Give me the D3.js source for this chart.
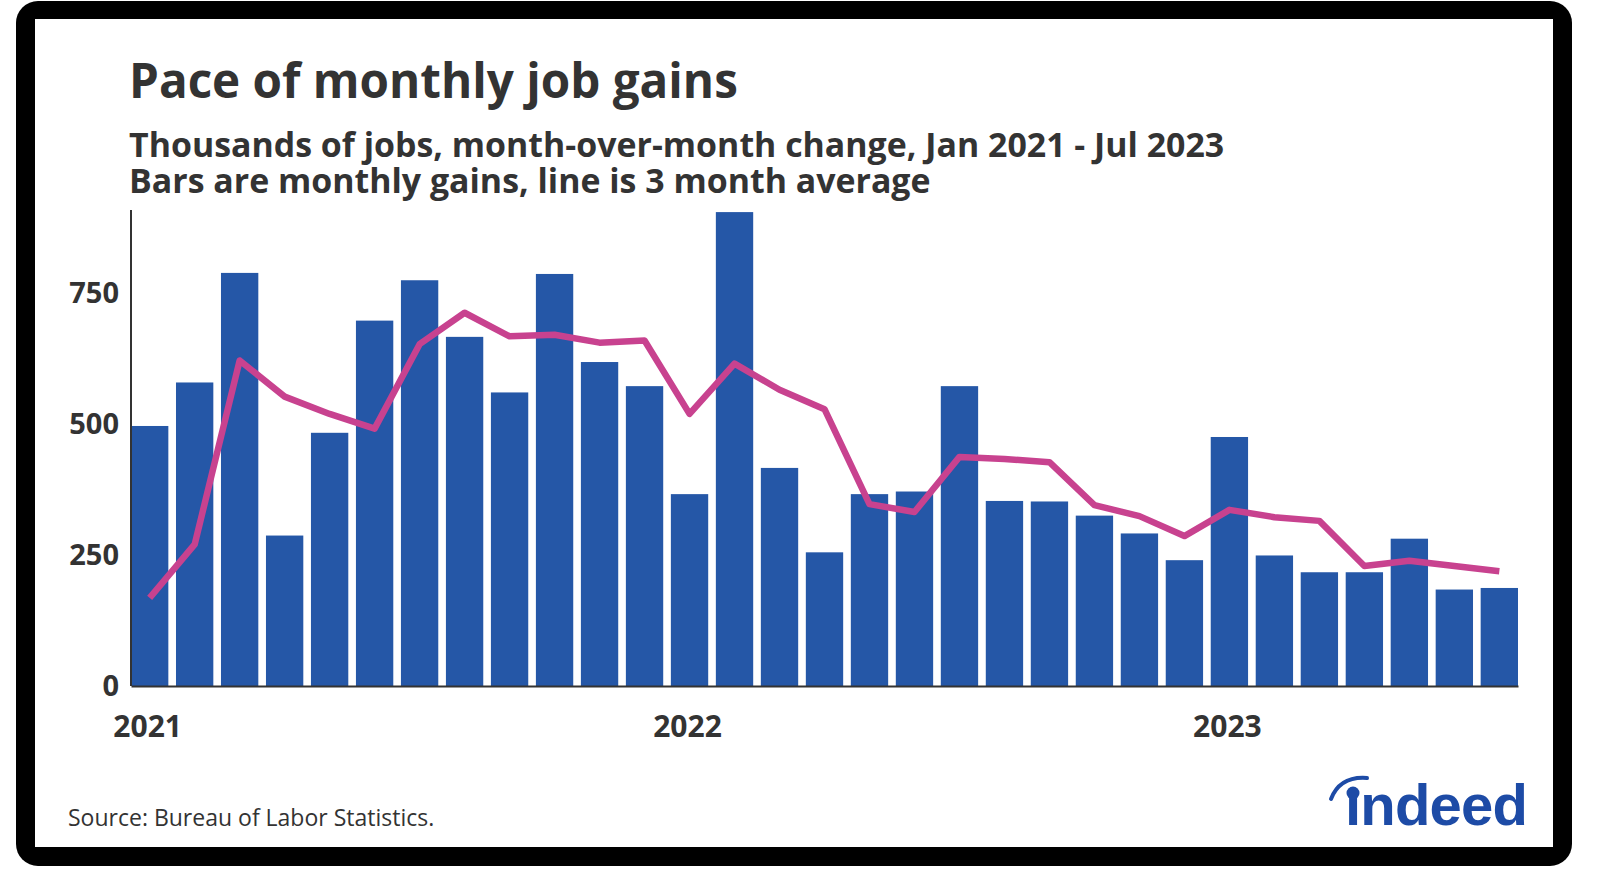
<!DOCTYPE html>
<html>
<head>
<meta charset="utf-8">
<script src="https://cdn.jsdelivr.net/npm/d3@7"></script>
<style>
  body { margin: 0; background: #fff; }
  svg { display: block; font-family: "Open Sans", sans-serif; }
</style>
</head>
<body>
<svg id="chart" width="1600" height="873"></svg>
<script>
// months Jan 2021 - Jul 2023
const months = ["2021-01","2021-02","2021-03","2021-04","2021-05","2021-06","2021-07","2021-08","2021-09","2021-10","2021-11","2021-12",
	"2022-01","2022-02","2022-03","2022-04","2022-05","2022-06","2022-07","2022-08","2022-09","2022-10","2022-11","2022-12",
	"2023-01","2023-02","2023-03","2023-04","2023-05","2023-06","2023-07"];
// monthly gains, thousands
const gains = [496, 579, 788, 287, 483, 697, 774, 666, 560, 786, 618, 572,
	366, 904, 416, 255, 366, 371, 572, 353, 352, 325, 291, 240,
	475, 249, 217, 217, 281, 184, 187];
// 3 month average
const avg3 = [168, 270, 621, 552, 519, 491, 652, 712, 667, 670, 655, 659,
	519, 615, 565, 528, 347, 332, 437, 433, 427, 345, 324, 286,
	336, 322, 315, 229, 239, 229, 219];
const yTicks = [0, 250, 500, 750];
const yearTicks = ["2021-01", "2022-01", "2023-01"];
const yearLabels = ["2021", "2022", "2023"];

const title = "Pace of monthly job gains";
const subtitle1 = "Thousands of jobs, month-over-month change, Jan 2021 - Jul 2023";
const subtitle2 = "Bars are monthly gains, line is 3 month average";
const source = "Source: Bureau of Labor Statistics.";

const barColor = "#2557a7";
const lineColor = "#c8428f";
const textColor = "#333333";

const svg = d3.select("#chart");

// black frame
svg.append("rect")
	.attr("x", 16).attr("y", 1)
	.attr("width", 1556).attr("height", 865)
	.attr("rx", 22)
	.style("fill", "#000");
svg.append("rect")
	.attr("x", 35).attr("y", 19)
	.attr("width", 1518).attr("height", 828)
	.style("fill", "#fff");

svg.append("text")
	.attr("x", 129).attr("y", 98)
	.style("font-size", "47.6px").style("font-weight", 700)
	.style("fill", textColor)
	.text(title);
svg.append("text")
	.attr("x", 129).attr("y", 157)
	.style("font-size", "33.9px").style("font-weight", 700)
	.style("fill", textColor)
	.text(subtitle1);
svg.append("text")
	.attr("x", 129).attr("y", 193)
	.style("font-size", "33.9px").style("font-weight", 700)
	.style("fill", textColor)
	.text(subtitle2);

const x = d3.scaleBand()
	.domain(months)
	.range([131, 1518])
	.paddingInner(0.17)
	.paddingOuter(0);

const y = d3.scaleLinear()
	.domain([0, 908])
	.range([686, 210]);

svg.append("g")
	.selectAll("rect")
	.data(gains)
	.join("rect")
	.attr("x", (d, i) => x(months[i]))
	.attr("y", d => y(d))
	.attr("width", x.bandwidth())
	.attr("height", d => y(0) - y(d))
	.style("fill", barColor);

const line = d3.line()
	.x((d, i) => x(months[i]) + x.bandwidth() / 2)
	.y(d => y(d));

svg.append("path")
	.datum(avg3)
	.attr("d", line)
	.style("fill", "none")
	.style("stroke", lineColor)
	.style("stroke-width", 6.5)
	.style("stroke-linejoin", "round");

// y axis
const yAxis = svg.append("g")
	.attr("transform", "translate(131,0)")
	.call(d3.axisLeft(y).tickValues(yTicks).tickSize(0).tickPadding(12));
yAxis.select(".domain").attr("d", "M0," + y(0) + "V" + y.range()[1])
	.style("stroke", textColor).style("stroke-width", 2);
yAxis.selectAll("text")
	.style("font-family", "Open Sans")
	.style("font-size", "29px").style("font-weight", 700)
	.style("fill", textColor);

// x axis
const xAxis = svg.append("g")
	.attr("transform", "translate(0," + y(0) + ")")
	.call(d3.axisBottom(x).tickValues(yearTicks).tickSize(0).tickPadding(30)
		.tickFormat((d) => yearLabels[yearTicks.indexOf(d)]));
xAxis.select(".domain").style("stroke", textColor).style("stroke-width", 2);
xAxis.selectAll("text")
	.attr("dx", -2)
	.style("font-family", "Open Sans")
	.style("font-size", "30px").style("font-weight", 700)
	.style("fill", textColor);

svg.append("text")
	.attr("x", 68).attr("y", 826)
	.style("font-size", "23px")
	.style("fill", textColor)
	.text(source);

// indeed logo
const logo = svg.append("g");
logo.append("text")
	.attr("x", 1345).attr("y", 825)
	.attr("textLength", 183)
	.style("font-family", "Liberation Sans, Arial, sans-serif")
	.style("font-size", "58px").style("font-weight", 700)
	.style("fill", "#1d4ba6")
	.text("ındeed");
logo.append("circle")
	.attr("cx", 1353).attr("cy", 793).attr("r", 6.5)
	.style("fill", "#1d4ba6");
logo.append("path")
	.attr("d", "M1331,799 Q1340,776 1367,778")
	.style("fill", "none")
	.style("stroke", "#1d4ba6")
	.style("stroke-width", 4)
	.style("stroke-linecap", "round");
</script>
</body>
</html>
